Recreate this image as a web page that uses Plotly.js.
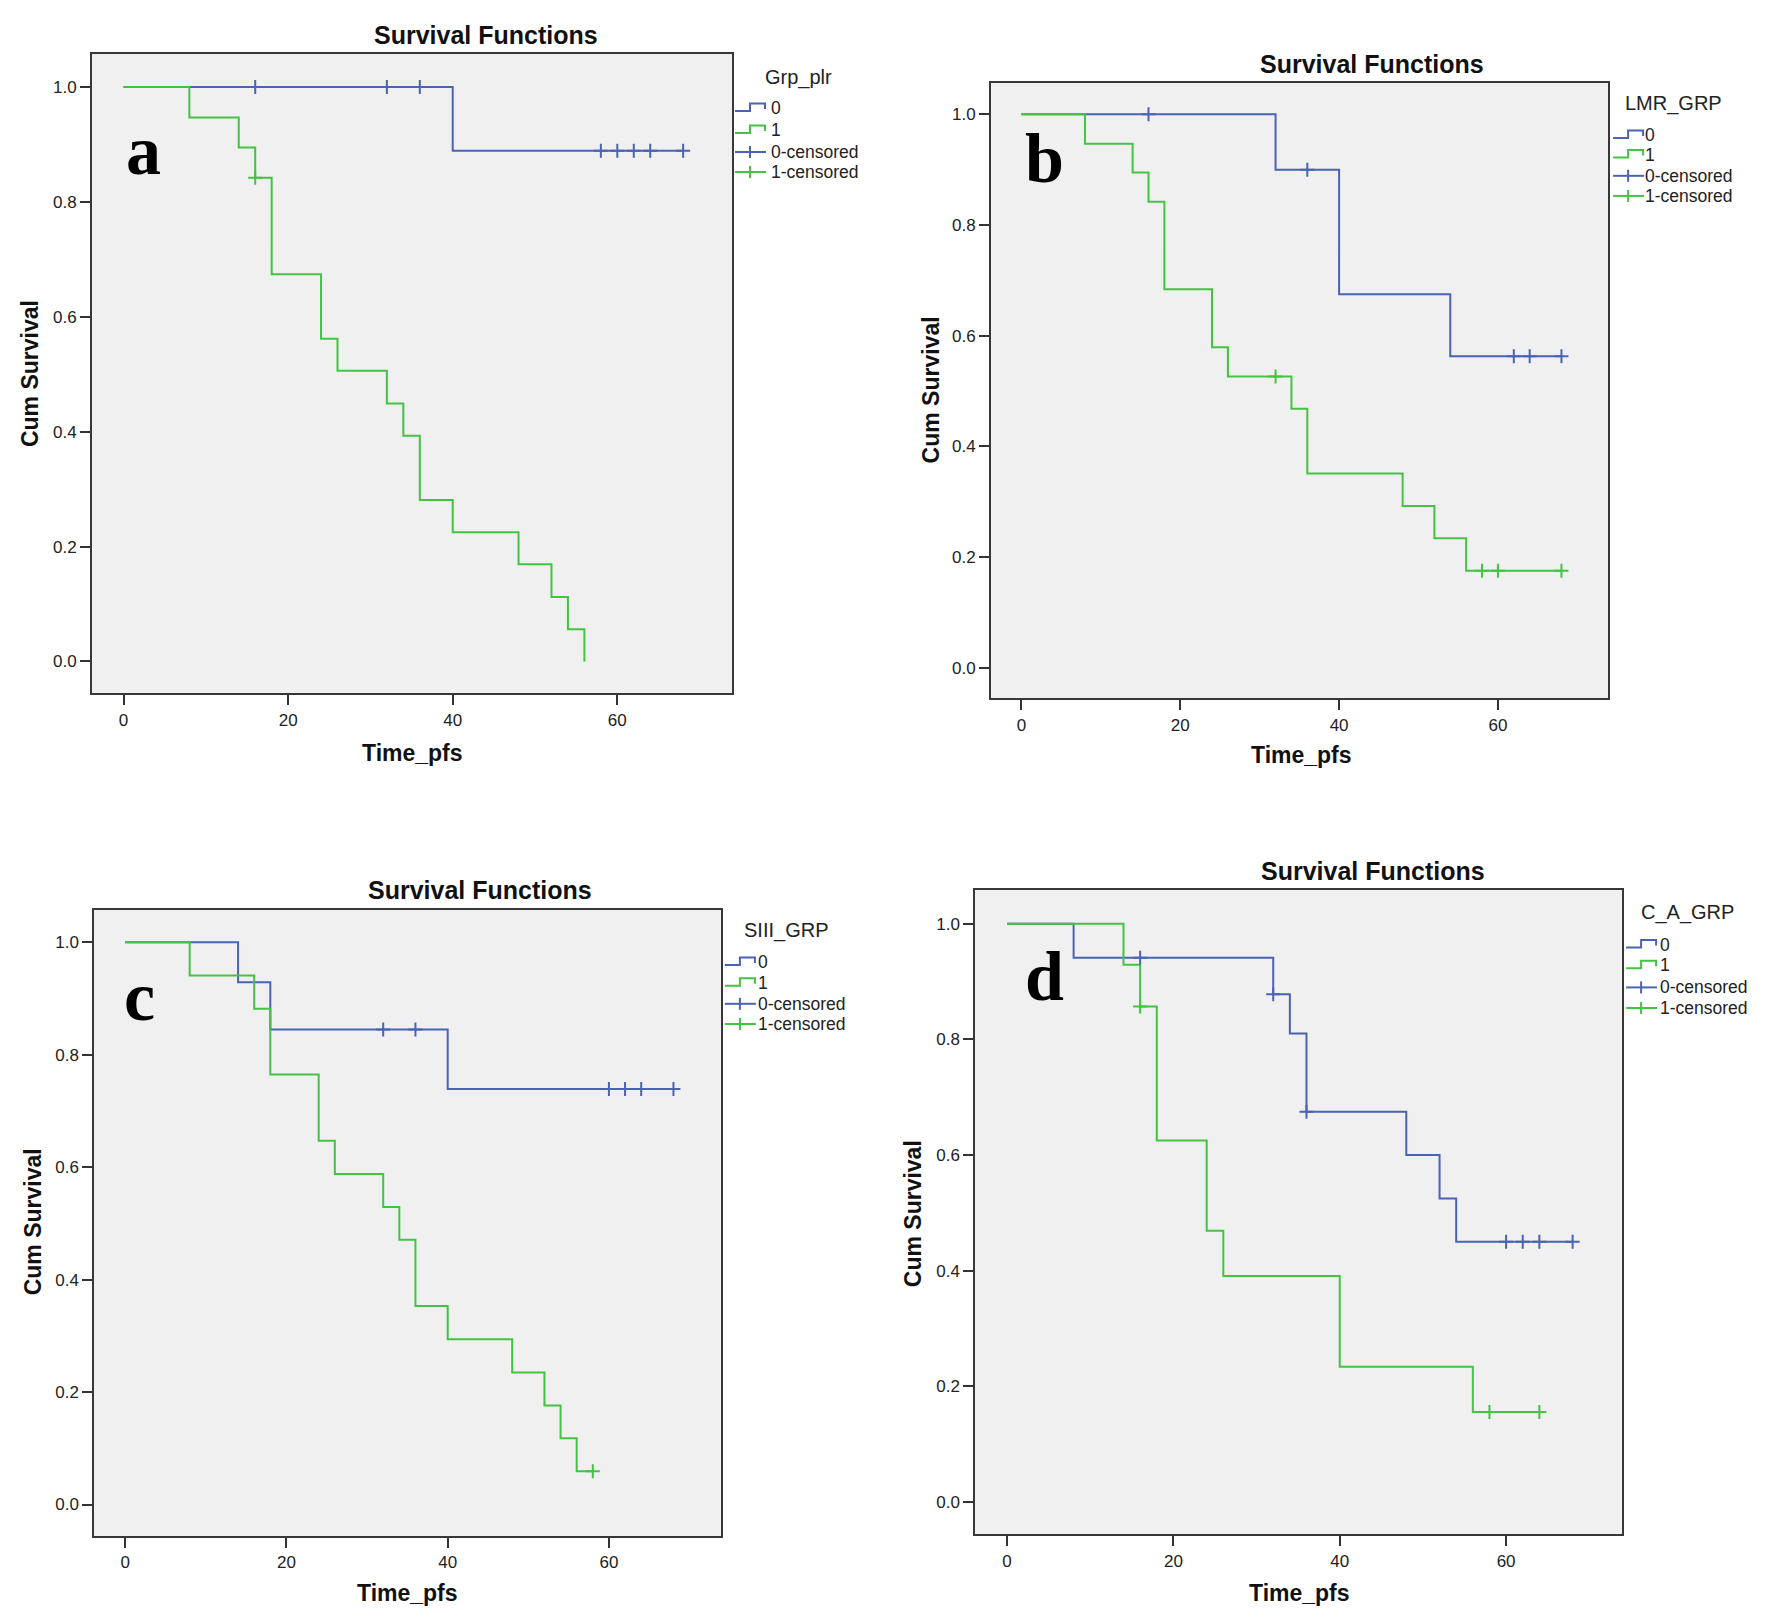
<!DOCTYPE html>
<html><head><meta charset="utf-8">
<script src="https://cdn.plot.ly/plotly-3.0.1.min.js"></script>
<style>html,body{margin:0;padding:0;background:#fff}#chart{width:1772px;height:1618px}</style>
</head><body><div id="chart"></div>
<script>
// ---------- DATA ----------
const panelLetters = ['a','b','c','d'];
const groupVars = ['Grp_plr','LMR_GRP','SIII_GRP','C_A_GRP'];
const legendLabels = ['0','1','0-censored','1-censored'];
const xTicks = [0,20,40,60];
const yTicks = [0,0.2,0.4,0.6,0.8,1.0];

// panel a
const a_t0 = [0,40,68];
const a_s0 = [1,0.889,0.889];
const a_c0t = [16,32,36,58,60,62,64,68];
const a_c0s = [1,1,1,0.889,0.889,0.889,0.889,0.889];
const a_t1 = [0,8,14,16,18,24,26,32,34,36,40,48,52,54,56];
const a_s1 = [1,0.947,0.895,0.842,0.674,0.562,0.506,0.449,0.393,0.281,0.225,0.169,0.112,0.056,0];
const a_c1t = [16];
const a_c1s = [0.842];

// panel b
const b_t0 = [0,32,40,54,68];
const b_s0 = [1,0.9,0.675,0.5625,0.5625];
const b_c0t = [16,36,62,64,68];
const b_c0s = [1,0.9,0.5625,0.5625,0.5625];
const b_t1 = [0,8,14,16,18,24,26,34,36,48,52,56,68];
const b_s1 = [1,0.947,0.895,0.842,0.684,0.579,0.526,0.468,0.351,0.292,0.234,0.175,0.175];
const b_c1t = [32,58,60,68];
const b_c1s = [0.526,0.175,0.175,0.175];

// panel c
const c_t0 = [0,14,18,40,68];
const c_s0 = [1,0.929,0.845,0.739,0.739];
const c_c0t = [32,36,60,62,64,68];
const c_c0s = [0.845,0.845,0.739,0.739,0.739,0.739];
const c_t1 = [0,8,16,18,24,26,32,34,36,40,48,52,54,56,58];
const c_s1 = [1,0.941,0.882,0.765,0.647,0.588,0.529,0.471,0.353,0.294,0.235,0.176,0.118,0.059,0.059];
const c_c1t = [58];
const c_c1s = [0.059];

// panel d
const d_t0 = [0,8,32,34,36,48,52,54,68];
const d_s0 = [1,0.941,0.878,0.810,0.675,0.600,0.525,0.450,0.450];
const d_c0t = [16,32,36,60,62,64,68];
const d_c0s = [0.941,0.878,0.675,0.45,0.45,0.45,0.45];
const d_t1 = [0,14,16,18,24,26,40,56,64];
const d_s1 = [1,0.929,0.857,0.625,0.469,0.391,0.234,0.156,0.156];
const d_c1t = [16,58,64];
const d_c1s = [0.857,0.156,0.156];

const series = [
  {t0:a_t0,s0:a_s0,c0t:a_c0t,c0s:a_c0s,t1:a_t1,s1:a_s1,c1t:a_c1t,c1s:a_c1s},
  {t0:b_t0,s0:b_s0,c0t:b_c0t,c0s:b_c0s,t1:b_t1,s1:b_s1,c1t:b_c1t,c1s:b_c1s},
  {t0:c_t0,s0:c_s0,c0t:c_c0t,c0s:c_c0s,t1:c_t1,s1:c_s1,c1t:c_c1t,c1s:c_c1s},
  {t0:d_t0,s0:d_s0,c0t:d_c0t,c0s:d_c0s,t1:d_t1,s1:d_s1,c1t:d_c1t,c1s:d_c1s}
];

// ---------- LAYOUT (pixel positions) ----------
const W=1772, H=1618;
const px = x => x/W, py = y => 1 - y/H;
const BLUE='#4a63b3', GREEN='#44c244';
const FONT='Arial, "Liberation Sans", sans-serif';

const P = [
  {plot:[92.1,731.7,54.1,693.3], title:[485.9,35], ytitle:[29.4,373.7], xtitle:[412.4,752.6],
   leg:{tx:763, ty:78, ix:735, lx:769, ys:[108,130,152,172]}, letter:[143.5,151]},
  {plot:[991.1,1608.3,82.5,698.3], title:[1371.9,64.4], ytitle:[931.2,390.2], xtitle:[1301.3,755.2],
   leg:{tx:1623.3, ty:103.1, ix:1613.1, lx:1643, ys:[135,154.6,175.8,195.9]}, letter:[1044.8,158]},
  {plot:[94.4,721,910,1535.7], title:[480.2,890.4], ytitle:[33.9,1221.4], xtitle:[407.9,1592.5],
   leg:{tx:741.8, ty:930.1, ix:724.9, lx:755.9, ys:[962.1,982.7,1003.8,1024]}, letter:[139,996]},
  {plot:[975.3,1621.7,890.4,1534.3], title:[1373,870.9], ytitle:[912.6,1213.6], xtitle:[1299.6,1592.5],
   leg:{tx:1639.1, ty:912.1, ix:1626.1, lx:1658.3, ys:[944.6,965.2,987.4,1008]}, letter:[1044,976]}
];

const traces=[], annotations=[], shapes=[];
const layout = {width:W, height:H, margin:{l:0,r:0,t:0,b:0}, paper_bgcolor:'#fff',
  plot_bgcolor:'#f0f0f0', showlegend:false, font:{family:FONT, color:'#111'}};

P.forEach((p,i)=>{
  const k = i===0 ? '' : String(i+1);
  const xa='x'+k, ya='y'+k;
  const s = series[i];
  const axBase = {ticks:'outside', ticklen:10, tickwidth:2, tickcolor:'#333',
    showline:true, mirror:true, linecolor:'#383838', linewidth:2, showgrid:false, zeroline:false,
    tickfont:{size:17, color:'#222', family:FONT}, fixedrange:true};
  layout['xaxis'+k] = Object.assign({domain:[px(p.plot[0]),px(p.plot[1])], anchor:ya, range:[-3.82,73.9],
    tickvals:xTicks}, axBase);
  layout['yaxis'+k] = Object.assign({domain:[py(p.plot[3]),py(p.plot[2])], anchor:xa, range:[-0.0555,1.0575],
    tickvals:yTicks, tickformat:'.1f'}, axBase);
  shapes.push({type:'rect', xref:xa+' domain', yref:ya+' domain', x0:0,x1:1,y0:0,y1:1,
    fillcolor:'#f0f0f0', line:{width:0}, layer:'below'});

  traces.push({x:s.t0, y:s.s0, xaxis:xa, yaxis:ya, mode:'lines', line:{shape:'hv', color:BLUE, width:2}, name:'0'});
  traces.push({x:s.t1, y:s.s1, xaxis:xa, yaxis:ya, mode:'lines', line:{shape:'hv', color:GREEN, width:2}, name:'1'});
  traces.push({x:s.c0t, y:s.c0s, xaxis:xa, yaxis:ya, mode:'markers', name:'0-censored',
    marker:{symbol:'cross-thin', size:10, color:BLUE, line:{color:BLUE, width:2}}});
  traces.push({x:s.c1t, y:s.c1s, xaxis:xa, yaxis:ya, mode:'markers', name:'1-censored',
    marker:{symbol:'cross-thin', size:10, color:GREEN, line:{color:GREEN, width:2}}});

  // titles
  annotations.push({text:'<b>Survival Functions</b>', xref:'paper', yref:'paper', x:px(p.title[0]), y:py(p.title[1]),
    xanchor:'center', yanchor:'middle', showarrow:false, font:{size:25, color:'#111', family:FONT}});
  annotations.push({text:'<b>Cum Survival</b>', xref:'paper', yref:'paper', x:px(p.ytitle[0]), y:py(p.ytitle[1]),
    xanchor:'center', yanchor:'middle', textangle:-90, showarrow:false, font:{size:23, color:'#111', family:FONT}});
  annotations.push({text:'<b>Time_pfs</b>', xref:'paper', yref:'paper', x:px(p.xtitle[0]), y:py(p.xtitle[1]),
    xanchor:'center', yanchor:'middle', showarrow:false, font:{size:23, color:'#111', family:FONT}});
  // panel letter
  annotations.push({text:'<b>'+panelLetters[i]+'</b>', xref:'paper', yref:'paper', x:px(p.letter[0]), y:py(p.letter[1]),
    xanchor:'center', yanchor:'middle', showarrow:false, font:{size:70, color:'#000', family:'"Liberation Serif", "Times New Roman", serif'}});

  // legend
  const L = p.leg;
  annotations.push({text:groupVars[i], xref:'paper', yref:'paper', x:px(L.tx), y:py(L.ty),
    xanchor:'left', yanchor:'middle', showarrow:false, font:{size:20, color:'#222', family:FONT}});
  legendLabels.forEach((lab,j)=>{
    const yc = L.ys[j];
    annotations.push({text:lab, xref:'paper', yref:'paper', x:px(L.lx), y:py(yc),
      xanchor:'left', yanchor:'middle', showarrow:false, font:{size:17.5, color:'#222', family:FONT}});
    const col = (j%2===0) ? BLUE : GREEN;
    const x0 = L.ix, xm = L.ix+15, x1 = L.ix+30;
    if (j<2) {
      shapes.push({type:'path', xref:'paper', yref:'paper',
        path:`M ${px(x0)} ${py(yc+3)} L ${px(xm)} ${py(yc+3)} L ${px(xm)} ${py(yc-4.5)} L ${px(x1)} ${py(yc-4.5)} L ${px(x1)} ${py(yc+1)}`,
        line:{color:col, width:2}});
    } else {
      shapes.push({type:'line', xref:'paper', yref:'paper', x0:px(x0), x1:px(x1+1), y0:py(yc), y1:py(yc), line:{color:col, width:2}});
      shapes.push({type:'line', xref:'paper', yref:'paper', x0:px(xm), x1:px(xm), y0:py(yc-6), y1:py(yc+6), line:{color:col, width:2}});
    }
  });
});
layout.annotations = annotations;
layout.shapes = shapes;
Plotly.newPlot('chart', traces, layout, {displayModeBar:false, staticPlot:true});
</script></body></html>
